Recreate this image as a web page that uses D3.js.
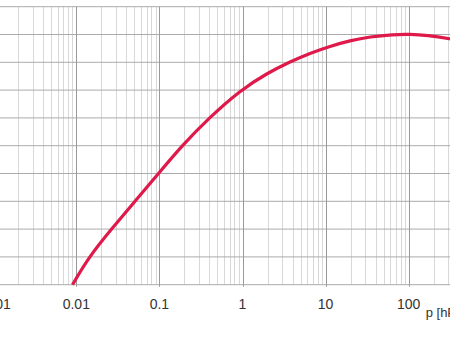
<!DOCTYPE html>
<meta charset="utf-8">
<style>
    body { margin: 0; background: #fff; }
    text {
        font-family: "Liberation Sans", Arial, sans-serif;
        fill: #333;
        font-size: 14px;
    }
    .minor line { stroke: #d8d8d8; stroke-width: 1px; }
    .major line { stroke: #9a9a9a; stroke-width: 1px; }
    .hgrid line { stroke: #ababab; stroke-width: 1px; }
    .curve { fill: none; stroke: #e0194b; stroke-width: 3.2px; stroke-linejoin: round; stroke-linecap: butt; }
</style>

<body>
    <svg width="450" height="338"></svg>
</body>

<script src="https://d3js.org/d3.v7.min.js"></script>
<script>

    // pressure decades shown on the axis
    var decades = [0.001, 0.01, 0.1, 1, 10, 100, 1000];
    var decadeLabels = ["0.001", "0.01", "0.1", "1", "10", "100", ""];
    var gridRows = [0, 1, 2, 3, 4, 5, 6, 7, 8, 9, 10];

    // curve (pressure in hPa, value in grid units)
    var pressure = [0.009, 0.0142, 0.0265, 0.0509, 0.0975, 0.187, 0.395, 0.946, 1.96, 3.73, 6.49, 11.3, 19.7, 34.2, 64.7, 104, 166, 314, 547];
    var speed    = [0,     1,      2,      3,      4,      5,     6,     7,     7.6,  8.02, 8.33, 8.58, 8.78, 8.92, 9.0, 9.01, 8.97, 8.85, 8.72];

    var svg = d3.select("svg"),
        width = +svg.attr("width"),
        height = +svg.attr("height");

    var x = d3.scaleLog()
        .domain([0.001, 1000])
        .range([-6.8, 491.8]);

    var y = d3.scaleLinear()
        .domain([0, 10])
        .range([284.7, 6.7]);

    var g = svg.append("g");

    // minor grid: 2..9 in every decade
    var minorTicks = [];
    decades.slice(0, -1).forEach(function (d) {
        for (var k = 2; k <= 9; k++) minorTicks.push(d * k);
    });

    g.append("g").attr("class", "minor")
        .selectAll("line")
        .data(minorTicks)
        .enter().append("line")
        .attr("x1", function (d) { return Math.round(x(d)) + 0.5; })
        .attr("x2", function (d) { return Math.round(x(d)) + 0.5; })
        .attr("y1", y(10))
        .attr("y2", y(0));

    // horizontal grid
    g.append("g").attr("class", "hgrid")
        .selectAll("line")
        .data(gridRows)
        .enter().append("line")
        .attr("x1", 0)
        .attr("x2", width)
        .attr("y1", function (d) { return y(d); })
        .attr("y2", function (d) { return y(d); });

    // decade lines, a little past the axis
    g.append("g").attr("class", "major")
        .selectAll("line")
        .data(decades)
        .enter().append("line")
        .attr("x1", function (d) { return Math.round(x(d)) + 0.5; })
        .attr("x2", function (d) { return Math.round(x(d)) + 0.5; })
        .attr("y1", y(10))
        .attr("y2", y(0) + 2);

    // tick labels
    g.append("g")
        .selectAll("text")
        .data(decades)
        .enter().append("text")
        .attr("x", function (d) { return x(d); })
        .attr("y", y(0) + 24.5)
        .style("text-anchor", "middle")
        .text(function (d, i) { return decadeLabels[i]; });

    g.append("text")
        .attr("x", x(100) + 17)
        .attr("y", y(0) + 32)
        .style("font-size", "13px")
        .text("p [hPa]");

    // pumping curve, lightly smoothed
    var line = d3.line()
        .curve(d3.curveBasis)
        .x(function (d) { return x(d); })
        .y(function (d, i) { return y(speed[i]); });

    g.append("path")
        .attr("class", "curve")
        .attr("d", line(pressure));

</script>
